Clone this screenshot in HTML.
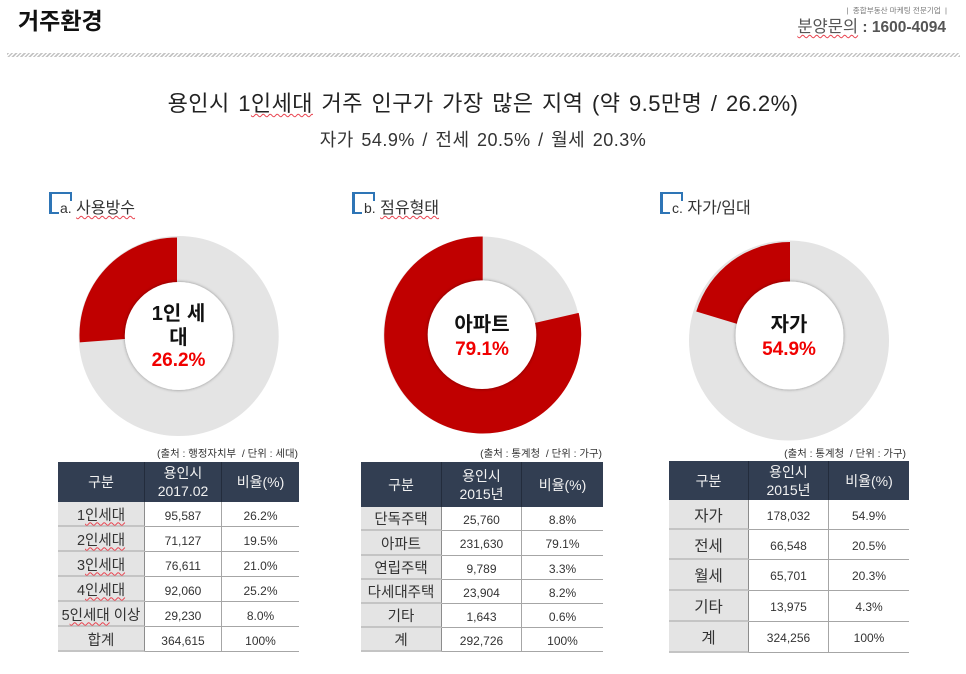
<!DOCTYPE html>
<html lang="ko">
<head>
<meta charset="utf-8">
<title>거주환경</title>
<style>
html,body{margin:0;padding:0;background:#fff}
#page{position:relative;width:966px;height:674px;overflow:hidden;background:#fff;font-family:"Liberation Sans","Noto Sans CJK KR",sans-serif;color:#222}
.abs{position:absolute;white-space:nowrap}
.sp{text-decoration:underline wavy #e8434f 1px;text-underline-offset:2px;text-decoration-skip-ink:none}
.bracket{position:absolute;top:192px;width:23px;height:22px;box-sizing:border-box;border-left:3px solid #2e75b6;border-top:2px solid #2e75b6}
.bracket::before{content:"";position:absolute;left:-3px;bottom:0;width:10px;height:2px;background:#2e75b6}
.bracket::after{content:"";position:absolute;right:0;top:0;width:2px;height:7px;background:#2e75b6}
.note{font-size:10.4px;color:#333;text-align:right;white-space:pre}
.tbl{position:absolute;display:grid;box-sizing:border-box}
.tbl>div{display:flex;align-items:center;justify-content:center;text-align:center;box-sizing:border-box;border-bottom:1px solid #a6a6a6;border-right:1px solid #a6a6a6;color:#333;font-size:12px;white-space:nowrap;padding-top:2px}
.c1>div{padding-top:3px}
.tbl>div:nth-child(3n){border-right:none}
.tbl>div.h{background:#323e52;color:#f2f2f2;font-size:14px;line-height:18px;border-bottom:none;border-right:1px solid #232c3c;padding-top:0}
.tbl>div.h:nth-child(3){border-right:none}
.tbl>div.k{background:#e4e4e4;font-size:14.5px;border-bottom:2px solid #c4c4c4;border-right:1px solid #8c8c8c;padding-top:1px}
.c3>div.k{font-size:15.5px}
</style>
</head>
<body>
<div id="page">

<div class="abs" style="left:18px;top:5px;font-size:23px;font-weight:bold;color:#111;line-height:32px">거주환경</div>
<div class="abs" style="right:19px;top:6px;font-size:7.6px;color:#777;line-height:10px">|&nbsp; 종합부동산 마케팅 전문기업 &nbsp;|</div>
<div class="abs" style="right:20px;top:17px;font-size:15.5px;font-weight:bold;color:#555;line-height:20px"><span class="sp" style="font-weight:normal;font-size:16.5px">분양문의</span> : 1600-4094</div>
<div class="abs" style="left:7px;top:53px;width:953px;height:4px;background:repeating-linear-gradient(135deg,#c4c4c4 0 1.5px,#fff 1.5px 3px)"></div>

<div class="abs" style="left:0;width:966px;top:88px;text-align:center;font-size:22px;line-height:32px;color:#222;word-spacing:2px;letter-spacing:.45px">용인시 1<span class="sp">인세대</span> 거주 인구가 가장 많은 지역 (약 9.5만명 / 26.2%)</div>
<div class="abs" style="left:0;width:966px;top:126px;text-align:center;font-size:18px;line-height:28px;color:#333;word-spacing:2px;letter-spacing:.5px">자가 54.9% / 전세 20.5% / 월세 20.3%</div>

<div class="bracket" style="left:49px"></div>
<div class="abs" style="left:60px;top:197px;font-size:16px;line-height:22px;color:#333"><span style="font-size:14px">a.</span> <span class="sp">사용방수</span></div>
<div class="bracket" style="left:352px"></div>
<div class="abs" style="left:364px;top:197px;font-size:16px;line-height:22px;color:#333"><span style="font-size:14px">b.</span> <span class="sp">점유형태</span></div>
<div class="bracket" style="left:660px"></div>
<div class="abs" style="left:672px;top:197px;font-size:16px;line-height:22px;color:#333"><span style="font-size:14px">c.</span> <span>자가/임대</span></div>

<svg id="donuts" width="966" height="674" viewBox="0 0 966 674" style="position:absolute;left:0;top:0">
  <defs>
    <filter id="soft" x="-20%" y="-20%" width="140%" height="140%"><feDropShadow dx="0" dy="0" stdDeviation="1.6" flood-color="#000" flood-opacity="0.4"/></filter>
  </defs>
  <g id="donut-layer"></g>
  <g font-family="'Liberation Sans','Noto Sans CJK KR',sans-serif" font-weight="bold" text-anchor="middle">
    <text x="178.5" y="320" font-size="20" fill="#111">1인 세</text>
    <text x="178.5" y="344" font-size="20" fill="#111">대</text>
    <text x="178.5" y="366" font-size="19" fill="#f00000">26.2%</text>
    <text x="482" y="331" font-size="20" fill="#111">아파트</text>
    <text x="482" y="355" font-size="19" fill="#f00000">79.1%</text>
    <text x="789" y="331" font-size="20" fill="#111">자가</text>
    <text x="789" y="355" font-size="19" fill="#f00000">54.9%</text>
  </g>
</svg>

<div class="abs note" style="right:668px;top:449px;line-height:12px">(출처 : 행정자치부  / 단위 : 세대)</div>
<div class="tbl c1" style="left:58px;top:462px;width:241px;grid-template-columns:87px 77px 77px;grid-template-rows:40px 25px 25px 25px 25px 25px 25px">
  <div class="h">구분</div><div class="h">용인시<br>2017.02</div><div class="h">비율(%)</div>
  <div class="k"><span>1<span class="sp">인세대</span></span></div><div>95,587</div><div>26.2%</div>
  <div class="k"><span>2<span class="sp">인세대</span></span></div><div>71,127</div><div>19.5%</div>
  <div class="k"><span>3<span class="sp">인세대</span></span></div><div>76,611</div><div>21.0%</div>
  <div class="k"><span>4<span class="sp">인세대</span></span></div><div>92,060</div><div>25.2%</div>
  <div class="k"><span>5<span class="sp">인세대</span> 이상</span></div><div>29,230</div><div>8.0%</div>
  <div class="k">합계</div><div>364,615</div><div>100%</div>
</div>

<div class="abs note" style="right:364px;top:449px;line-height:12px">(출처 : 통계청  / 단위 : 가구)</div>
<div class="tbl" style="left:361px;top:462px;width:242px;grid-template-columns:81px 80px 81px;grid-template-rows:45px 24px 25px 24px 24px 24px 24px">
  <div class="h">구분</div><div class="h">용인시<br>2015년</div><div class="h">비율(%)</div>
  <div class="k">단독주택</div><div>25,760</div><div>8.8%</div>
  <div class="k">아파트</div><div>231,630</div><div>79.1%</div>
  <div class="k">연립주택</div><div>9,789</div><div>3.3%</div>
  <div class="k">다세대주택</div><div>23,904</div><div>8.2%</div>
  <div class="k">기타</div><div>1,643</div><div>0.6%</div>
  <div class="k">계</div><div>292,726</div><div>100%</div>
</div>

<div class="abs note" style="right:60px;top:449px;line-height:12px">(출처 : 통계청  / 단위 : 가구)</div>
<div class="tbl c3" style="left:669px;top:461px;width:240px;grid-template-columns:80px 80px 80px;grid-template-rows:39px 30px 30px 31px 31px 31px">
  <div class="h">구분</div><div class="h">용인시<br>2015년</div><div class="h">비율(%)</div>
  <div class="k">자가</div><div>178,032</div><div>54.9%</div>
  <div class="k">전세</div><div>66,548</div><div>20.5%</div>
  <div class="k">월세</div><div>65,701</div><div>20.3%</div>
  <div class="k">기타</div><div>13,975</div><div>4.3%</div>
  <div class="k">계</div><div>324,256</div><div>100%</div>
</div>
</div>

<script>
// Share of each donut drawn in red, in percent.
// Donut c's red arc reads about 20.3% even though its centre label prints 54.9%.
var donutCategories = ['1인세대', '아파트', '자가'];
var donutRedShares = [26.2, 78.6, 20.3];

var SVG_NS = 'http://www.w3.org/2000/svg';
var layer = document.getElementById('donut-layer');

// Axis function: percent of the ring to clockwise angle in radians from 12 o'clock.
function shareToAngle(share) {
  return share / 100 * 2 * Math.PI;
}

function pointAt(cx, cy, r, angle) {
  return [cx + r * Math.sin(angle), cy - r * Math.cos(angle)];
}

function drawDonut(index, key, track, wedge, hole) {
  var ring = document.createElementNS(SVG_NS, 'circle');
  
  
  ring.setAttribute('cx', track[0]);
  ring.setAttribute('cy', track[1]);
  ring.setAttribute('r', track[2]);
  ring.setAttribute('fill', '#e4e4e4');
  layer.appendChild(ring);

  // The red slice ends at 12 o'clock and sweeps counter-clockwise.
  var sweep = shareToAngle(donutRedShares[index]);
  var start = pointAt(wedge[0], wedge[1], wedge[2], -sweep);
  var end = pointAt(wedge[0], wedge[1], wedge[2], 0);
  var large = sweep > Math.PI ? 1 : 0;
  var slice = document.createElementNS(SVG_NS, 'path');
  
  
  slice.setAttribute('d', 'M' + wedge[0] + ' ' + wedge[1] + 'L' + start[0] + ' ' + start[1] + 'A' + wedge[2] + ' ' + wedge[2] + ' 0 ' + large + ' 1 ' + end[0] + ' ' + end[1] + 'Z');
  slice.setAttribute('fill', '#c00000');
  layer.appendChild(slice);

  var center = document.createElementNS(SVG_NS, 'circle');
  
  
  center.setAttribute('cx', hole[0]);
  center.setAttribute('cy', hole[1]);
  center.setAttribute('r', hole[2]);
  center.setAttribute('fill', '#fff');
  center.setAttribute('filter', 'url(#soft)');
  layer.appendChild(center);
}

drawDonut(0, 'a', [178.7, 336, 100], [177, 335, 97.5], [178.8, 336, 54]);
drawDonut(1, 'b', [482, 335, 98.5], [482.7, 335, 98.5], [482, 334.7, 54.3]);
drawDonut(2, 'c', [789, 340.5, 100], [790, 340, 98], [789.5, 335.5, 54]);
</script>
</body>
</html>
